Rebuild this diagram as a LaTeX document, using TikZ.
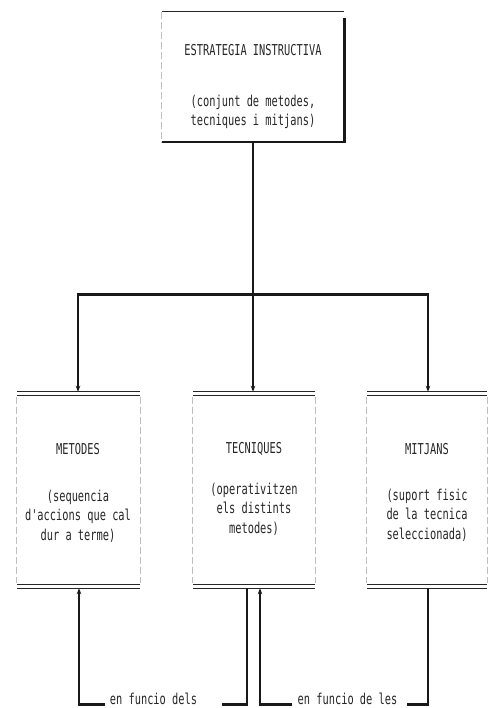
\documentclass[tikz,border=0pt]{standalone}
\usepackage{fontspec}
\newfontfamily\dotfont[FakeStretch=0.69]{DejaVu Sans Mono}
\usetikzlibrary{arrows.meta}
\begin{document}
\begin{tikzpicture}[x=1pt,y=1pt,
  txt/.style={font=\dotfont\fontsize{15}{19.5}\selectfont, inner sep=0pt, align=center, text=black!85},
  frame/.style={draw=none, inner sep=0pt, minimum width=#1, minimum height=196},
  wire/.style={line width=1.7pt, black!90},
  heavy/.style={line width=3pt, black!90},
  dbl/.style={line width=1.2pt, black!85},
  side/.style={draw=black!25, line width=0.8pt, dash pattern=on 7pt off 3pt},
  arr/.style={wire, -{Stealth[length=6pt,width=4.5pt]}}
]
\useasboundingbox (0,0) rectangle (489,708);

% top box
\node[draw=none, inner sep=0pt, minimum width=182, minimum height=130] (top) at (253,631) {};
\draw[line width=1pt, black!85] (top.north west) -- (top.north east);
\draw[side] (top.north west) -- (top.south west);
\draw[line width=2.6pt, black!90] ([yshift=-6]top.north east) -- (top.south east) -- (top.south west);
\node[txt] (toptitle) at (253,658) {ESTRATEGIA INSTRUCTIVA};
\node[txt] (topdesc) at (253,596) {(conjunt de metodes,\\ tecniques i mitjans)};

% lower boxes
\node[frame=123] (met) at (78.5,218) {};
\node[frame=122] (tec) at (254,218) {};
\node[frame=120] (mit) at (427,218) {};
\foreach \b in {met,tec,mit}{
  \draw[dbl] (\b.north west) -- (\b.north east);
  \draw[dbl] ([yshift=-3.5]\b.north west) -- ([yshift=-3.5]\b.north east);
  \draw[dbl] (\b.south west) -- (\b.south east);
  \draw[dbl] ([yshift=3.5]\b.south west) -- ([yshift=3.5]\b.south east);
  \draw[side] ([yshift=-5]\b.north west) -- ([yshift=5]\b.south west);
  \draw[side] ([yshift=-5]\b.north east) -- ([yshift=5]\b.south east);
}
\node[txt] (mett) at (78,259) {METODES};
\node[txt] (metd) at (78,192) {(sequencia\\d'accions que cal\\dur a terme)};
\node[txt] (tect) at (254,259) {TECNIQUES};
\node[txt] (tecd) at (254,199) {(operativitzen\\els distints\\metodes)};
\node[txt] (mitt) at (427,259) {MITJANS};
\node[txt] (mitd) at (427,193) {(suport fisic\\de la tecnica\\seleccionada)};

% distribution
\coordinate (j) at (253,413);
\coordinate (bl) at (78,413);
\coordinate (br) at (428,413);
\draw[wire] (top.south) -- (j);
\draw[heavy] ([xshift=-0.8]bl) -- ([xshift=0.8]br);
\draw[arr] (bl) -- (bl |- met.north);
\draw[arr] (j) -- (j |- tec.north);
\draw[arr] (br) -- (br |- mit.north);

% bottom relations
\coordinate (m0) at (79,3);
\coordinate (m1) at (105,3);
\coordinate (t0) at (247,3);
\coordinate (t1) at (222,3);
\coordinate (u0) at (260,3);
\coordinate (u1) at (292,3);
\coordinate (v0) at (428,3);
\coordinate (v1) at (407,3);
\draw[arr] (m0) -- (m0 |- met.south);
\draw[heavy] ([xshift=-0.8]m0) -- (m1);
\draw[wire] (t0 |- tec.south) -- (t0);
\draw[heavy] ([xshift=0.8]t0) -- (t1);
\draw[arr] (u0) -- (u0 |- tec.south);
\draw[heavy] ([xshift=-0.8]u0) -- (u1);
\draw[wire] (v0 |- mit.south) -- (v0);
\draw[heavy] ([xshift=0.8]v0) -- (v1);
\node[txt, anchor=base] (lab1) at (153.5,3) {en funcio dels};
\node[txt, anchor=base] (lab2) at (347.5,3) {en funcio de les};
\end{tikzpicture}
\end{document}
